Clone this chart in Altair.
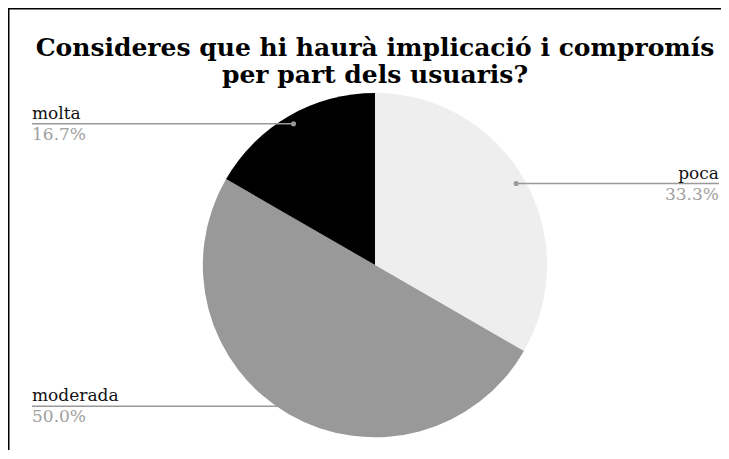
import altair as alt
import pandas as pd

# ---- data ----
categories = ["poca", "moderada", "molta"]
counts = [2, 3, 1]            # 33.3 %, 50.0 %, 16.7 %
slice_order = [0, 1, 2]       # clockwise from 12 o'clock
slice_colors = ["#eeeeee", "#999999", "#000000"]
title_lines = ["Consideres que hi haurà implicació i compromís", "per part dels usuaris?"]

# ---- layout constants (pixels inside the plot area) ----
W, H = 713, 442
CX, CY, R = 367, 257, 172
R_DOT = 163
LEFT_X, RIGHT_X = 24, 711

df = pd.DataFrame({"category": categories, "count": counts, "order": slice_order})

base = (
    alt.Chart(df)
    .transform_joinaggregate(total="sum(count)")
    .transform_window(cum="sum(count)", sort=[alt.SortField("order")])
    .transform_calculate(
        mid="(datum.cum - datum.count / 2) / datum.total * 2 * PI",
        px=f"{CX} + {R_DOT} * sin(datum.mid)",
        py=f"{CY} - {R_DOT} * cos(datum.mid)",
        side="sin(datum.mid) < 0 ? 'left' : 'right'",
        ex=f"sin(datum.mid) < 0 ? {LEFT_X} : {RIGHT_X}",
        pct="format(datum.count / datum.total, '.1%')",
    )
)

arc = alt.Chart(df).mark_arc(radius=R).encode(
    theta=alt.Theta("count:Q", stack=True),
    color=alt.Color("category:N", scale=alt.Scale(domain=categories, range=slice_colors), legend=None),
    order=alt.Order("order:Q"),
    x=alt.value(CX),
    y=alt.value(CY),
)

leader = base.mark_rule(color="#999999", strokeWidth=1.5).encode(
    x=alt.X("px:Q", scale=None), x2="ex:Q", y=alt.Y("py:Q", scale=None)
)
dots = base.mark_circle(size=26, color="#999999", opacity=1).encode(
    x=alt.X("px:Q", scale=None), y=alt.Y("py:Q", scale=None)
)

def label_layers(side, align):
    b = base.transform_filter(f"datum.side == '{side}'")
    name = b.mark_text(align=align, baseline="alphabetic", dy=-5, font="DejaVu Serif",
                       fontSize=17, color="#111111").encode(
        x=alt.X("ex:Q", scale=None), y=alt.Y("py:Q", scale=None), text="category:N")
    pct = b.mark_text(align=align, baseline="alphabetic", dy=16, font="DejaVu Serif",
                      fontSize=17, color="#a0a0a0").encode(
        x=alt.X("ex:Q", scale=None), y=alt.Y("py:Q", scale=None), text="pct:N")
    return [name, pct]

title = alt.Chart(pd.DataFrame({"title": ["\n".join(title_lines)]})).mark_text(
    align="center", baseline="alphabetic", lineBreak="\n", lineHeight=27,
    font="DejaVu Serif", fontWeight="bold", fontSize=25, color="#000000",
).encode(text="title:N", x=alt.value(CX), y=alt.value(48))

frame_df = pd.DataFrame({"k": [0]})
border_left = alt.Chart(frame_df).mark_rule(color="#000000", strokeWidth=3).encode(
    x=alt.value(0), y=alt.value(0), y2=alt.value(H))
border_top = alt.Chart(frame_df).mark_rule(color="#000000", strokeWidth=3).encode(
    x=alt.value(0), x2=alt.value(W), y=alt.value(0))

chart = alt.layer(
    arc, leader, dots, *label_layers("left", "left"), *label_layers("right", "right"),
    title, border_left, border_top,
).properties(
    width=W, height=H, autosize=alt.AutoSizeParams(type="none"), padding=0,
).configure_view(stroke=None)

chart.save("out.html", embed_options={"renderer": "svg", "actions": False})
